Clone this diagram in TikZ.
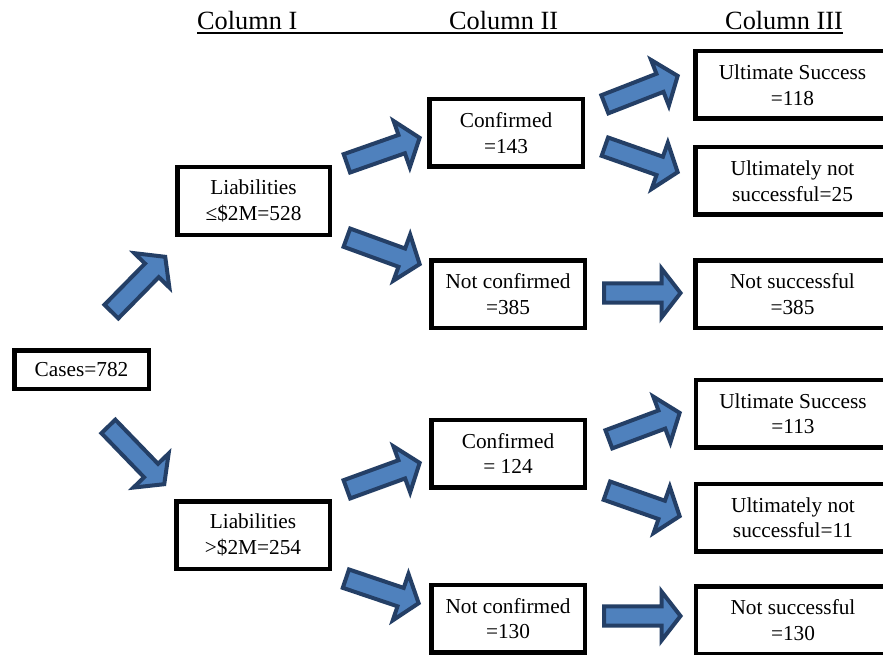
\documentclass[tikz,border=0pt]{standalone}
\usepackage{fontspec}
\setmainfont{Liberation Serif}
\usetikzlibrary{calc}
\definecolor{arrowfill}{HTML}{4F81BD}
\definecolor{arrowline}{HTML}{243F66}
\tikzset{
  box/.style={draw=black, line width=4.5pt, fill=white, align=center,
    font=\fontsize{21.3}{25.5}\selectfont, inner sep=0pt, minimum height=67.5pt},
  colIIbox/.style={box, minimum width=153.5pt},
  colIIIbox/.style={box, minimum width=194.5pt},
  colhead/.style={font=\fontsize{26.3}{30}\selectfont, inner sep=0pt, anchor=base west},
  barrow/.style={draw=arrowline, fill=arrowfill, line width=4pt, line join=miter},
}
\newcommand\blockarrow[2]{%
  \path let \p1=($(#2)-(#1)$), \n1={atan2(\y1,\x1)}, \n2={veclen(\x1,\y1)} in
    \pgfextra{\xdef\barang{\n1}\pgfmathsetmacro\barhb{\n2-21.5}\xdef\barhb{\barhb}%
      \pgfmathsetmacro\bartip{\n2-2.5}\xdef\bartip{\bartip}};
  \begin{scope}[shift={(#1)}, rotate=\barang]
    \draw[barrow] (2pt,9.7pt) -- (\barhb pt,9.7pt) -- (\barhb pt,24.5pt) -- (\bartip pt,0pt)
      -- (\barhb pt,-24.5pt) -- (\barhb pt,-9.7pt) -- (2pt,-9.7pt) -- cycle;
  \end{scope}}
\begin{document}
\begin{tikzpicture}[x=1pt, y=-1pt]
\fill[white] (0,0) rectangle (883,655);
\useasboundingbox (0,0) rectangle (883,655);

% headers
\node[colhead] (h1) at (197,29.5) {Column I};
\node[colhead] (h2) at (449,29.5) {Column II};
\node[colhead] (h3) at (725,29.5) {Column III};
\draw[line width=1.8pt] ($(h1.base west)+(0,3.8)$) -- ($(h3.base east)+(0,3.8)$);

% boxes
\node[box, minimum width=134.5pt, minimum height=38.5pt] (cases) at (81.5,369.5) {Cases=782};
\node[box, minimum width=152.5pt] (l1) at (253.5,201) {Liabilities\\≤\$2M=528};
\node[box, minimum width=153.5pt] (l2) at (253,535) {Liabilities\\>\$2M=254};

\node[colIIbox] (c143) at (506,133) {Confirmed\\=143};
\node[colIIbox] (nc385) at (508,294) {Not confirmed\\=385};
\node[colIIbox] (c124) at (508,453.5) {Confirmed\\= 124};
\node[colIIbox] (nc130) at (508,618.5) {Not confirmed\\=130};

\node[colIIIbox] (us118) at (792.5,85) {Ultimate Success\\=118};
\node[colIIIbox] (uns25) at (792.5,181) {Ultimately not\\successful=25};
\node[colIIIbox] (ns385) at (792.5,294) {Not successful\\=385};
\node[colIIIbox] (us113) at (793,413.5) {Ultimate Success\\=113};
\node[colIIIbox] (uns11) at (793,517.5) {Ultimately not\\successful=11};
\node[colIIIbox] (ns130) at (793,620) {Not successful\\=130};

% arrow end points
\coordinate (a1s) at (110,313);  \coordinate (a1e) at (167,255);
\coordinate (a2s) at (107,425);  \coordinate (a2e) at (166,486);
\coordinate (a3s) at (345,164);  \coordinate (a3e) at (422,137);
\coordinate (a4s) at (345,237);  \coordinate (a4e) at (422,265);
\coordinate (a5s) at (603,105);  \coordinate (a5e) at (680,75);
\coordinate (a6s) at (603,146);  \coordinate (a6e) at (680,173);
\coordinate (a7s) at (602,293);  \coordinate (a7e) at (683,293);
\coordinate (a8s) at (345,490);  \coordinate (a8e) at (422,462);
\coordinate (a9s) at (344,578);  \coordinate (a9e) at (421,604);
\coordinate (a10s) at (607,440); \coordinate (a10e) at (682,412);
\coordinate (a11s) at (605,490); \coordinate (a11e) at (682,517);
\coordinate (a12s) at (602,616); \coordinate (a12e) at (683,616);

\blockarrow{a1s}{a1e}
\blockarrow{a2s}{a2e}
\blockarrow{a3s}{a3e}
\blockarrow{a4s}{a4e}
\blockarrow{a5s}{a5e}
\blockarrow{a6s}{a6e}
\blockarrow{a7s}{a7e}
\blockarrow{a8s}{a8e}
\blockarrow{a9s}{a9e}
\blockarrow{a10s}{a10e}
\blockarrow{a11s}{a11e}
\blockarrow{a12s}{a12e}
\end{tikzpicture}
\end{document}
